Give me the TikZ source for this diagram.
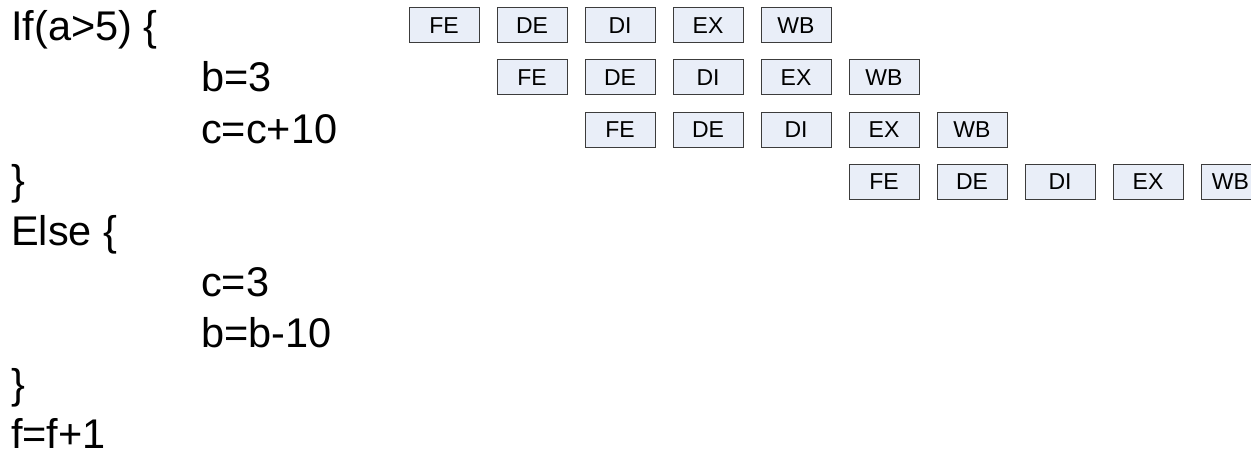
\documentclass[tikz,border=0pt]{standalone}
\usepackage{fontspec}
\setmainfont{Liberation Sans}
\usetikzlibrary{positioning}
\definecolor{stagefill}{HTML}{E9EEF8}
\definecolor{stagedraw}{HTML}{3C3C3C}
\tikzset{
  stage/.style={draw=stagedraw, fill=stagefill, line width=1pt,
                minimum width=70pt, minimum height=35pt, inner sep=0pt,
                font=\fontsize{23}{27}\selectfont},
  code/.style={anchor=base west, inner sep=0pt,
               font=\fontsize{41.5}{49}\selectfont},
}

\begin{document}
\begin{tikzpicture}[node distance=16pt and 17pt]
  \useasboundingbox (0,0) rectangle (1251pt,-452pt);
  % source code
  \node[code] (cif) at (11pt,-41pt) {If(a>5) \{};
  \node[code] (cb) at (201pt,-92pt) {b=3};
  \node[code] (cc) at (201pt,-143pt) {c=c+10};
  \node[code] (cend) at (11pt,-194pt) {\}};
  \node[code] (celse) at (11pt,-245pt) {Else \{};
  \node[code] (cc2) at (201pt,-296pt) {c=3};
  \node[code] (cb2) at (201pt,-347pt) {b=b-10};
  \node[code] (cend2) at (11pt,-398pt) {\}};
  \node[code] (cf) at (11pt,-448pt) {f=f+1};

  % pipeline stages
  \node[stage] (fe1) at (444pt,-25.5pt) {FE};
  \node[stage, right=of fe1] (de1) {DE};
  \node[stage, right=of de1] (di1) {DI};
  \node[stage, right=of di1] (ex1) {EX};
  \node[stage, right=of ex1] (wb1) {WB};

  \node[stage, below=of de1] (fe2) {FE};
  \node[stage, right=of fe2] (de2) {DE};
  \node[stage, right=of de2] (di2) {DI};
  \node[stage, right=of di2] (ex2) {EX};
  \node[stage, right=of ex2] (wb2) {WB};

  \node[stage, below=of de2] (fe3) {FE};
  \node[stage, right=of fe3] (de3) {DE};
  \node[stage, right=of de3] (di3) {DI};
  \node[stage, right=of di3] (ex3) {EX};
  \node[stage, right=of ex3] (wb3) {WB};

  % fetched after the branch resolves
  \node[stage, below=of ex3] (fe4) {FE};
  \node[stage, right=of fe4] (de4) {DE};
  \node[stage, right=of de4] (di4) {DI};
  \node[stage, right=of di4] (ex4) {EX};
  \node[stage, right=of ex4, minimum width=59pt] (wb4) {WB};
\end{tikzpicture}
\end{document}
